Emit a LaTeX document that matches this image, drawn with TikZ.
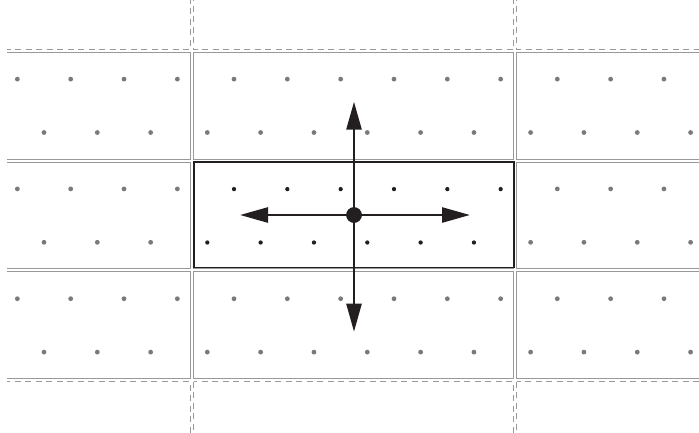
\documentclass[tikz,border=0pt]{standalone}
\usetikzlibrary{arrows.meta}
\definecolor{cellgray}{HTML}{999999}
\definecolor{dotgray}{HTML}{7A7A7A}
\definecolor{ink}{HTML}{231F20}
\begin{document}
\begin{tikzpicture}[x=1pt,y=-1pt,
  cellbox/.style={draw=cellgray,line width=1.15pt},
  ghostbox/.style={draw=cellgray,line width=1.15pt,dash pattern=on 6pt off 4.5pt},
  gdot/.style={circle,fill=dotgray,inner sep=0pt,minimum size=4.8pt},
  bdot/.style={circle,fill=ink,inner sep=0pt,minimum size=4.3pt},
  mainbox/.style={draw=ink,line width=1.5pt},
  vec/.style={draw=ink,line width=2.6pt,-{Triangle[length=28pt,width=15pt]}},
  hub/.style={circle,fill=ink,inner sep=0pt,minimum size=15.5pt}]
\useasboundingbox (0,0) rectangle (699,432);
\begin{scope}
  \clip (7,0) rectangle (699,432);
  % cells
  \foreach \c in {-1,0,1} {
    \foreach \r in {-1,0,1,2,3} {
      \pgfmathsetmacro\xa{192+323.3*\c+1.5}
      \pgfmathsetmacro\xb{192+323.3*(\c+1)-1.5}
      \pgfmathsetmacro\ya{50.8+109.8*\r+1.5}
      \pgfmathsetmacro\yb{50.8+109.8*(\r+1)-1.5}
      \ifnum\r=-1
        \draw[ghostbox] (\xa,\ya) rectangle (\xb,\yb);
      \else\ifnum\r=3
        \draw[ghostbox] (\xa,\ya) rectangle (\xb,\yb);
      \else
        \draw[cellbox] (\xa,\ya) rectangle (\xb,\yb);
      \fi\fi
    }
  }
  % dots in the gray cells
  \foreach \c in {-1,0,1} {
    \foreach \r in {0,1,2} {
      \pgfmathtruncatemacro\iscentre{(\c==0)&&(\r==1)}
      \ifnum\iscentre=0
        \foreach \k in {0,...,5} {
          \pgfmathsetmacro\xt{192+323.3*\c+42+53.33*\k}
          \pgfmathsetmacro\xl{192+323.3*\c+15.3+53.33*\k}
          \pgfmathsetmacro\yt{50.8+109.8*\r+28.3}
          \pgfmathsetmacro\yl{50.8+109.8*\r+81.7}
          \node[gdot] (t\c\r\k) at (\xt,\yt) {};
          \node[gdot] (l\c\r\k) at (\xl,\yl) {};
        }
      \fi
    }
  }
\end{scope}
% central cell
\draw[mainbox] (194,161.8) rectangle (514,267.6);
\foreach \k in {0,...,5} {
  \pgfmathsetmacro\xt{234+53.33*\k}
  \pgfmathsetmacro\xl{207.3+53.33*\k}
  \node[bdot] (ct\k) at (\xt,189.1) {};
  \node[bdot] (cl\k) at (\xl,242.5) {};
}
% vectors
\node[hub] (hub) at (354,215) {};
\coordinate (tipL) at (240,215);
\coordinate (tipR) at (470,215);
\coordinate (tipU) at (354,101.7);
\coordinate (tipD) at (354,331.7);
\draw[vec] (hub.center) -- (tipL);
\draw[vec] (hub.center) -- (tipR);
\draw[vec] (hub.center) -- (tipU);
\draw[vec] (hub.center) -- (tipD);
\node[hub] at (hub) {};
\end{tikzpicture}
\end{document}
